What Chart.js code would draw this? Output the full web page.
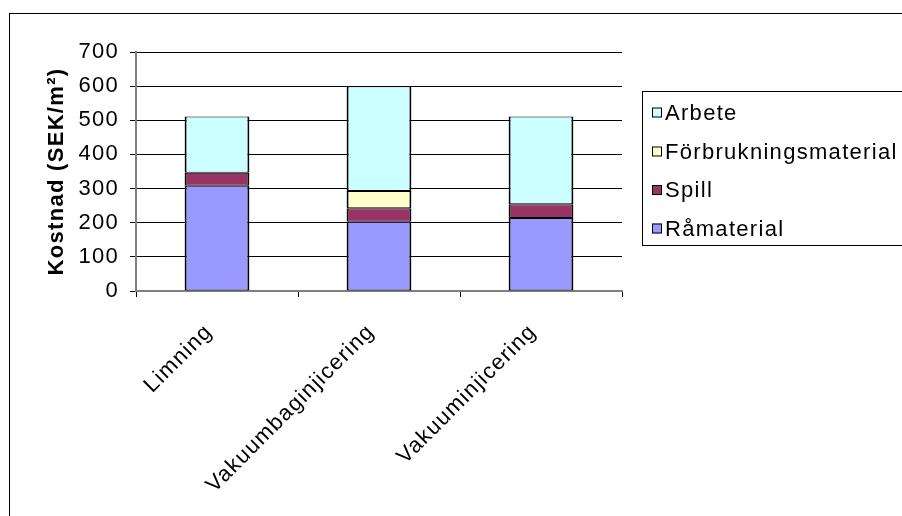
<!DOCTYPE html>
<html>
<head>
<meta charset="utf-8">
<script src="https://cdn.jsdelivr.net/npm/chart.js@4"></script>
<style>
  html, body { margin: 0; padding: 0; background: #fff; }
  #c { display: block; }
</style>
</head>
<body>
<canvas id="c" width="902" height="516"></canvas>
<script>
// Cost per square metre for each manufacturing method (SEK/m²)
const categories = ['Limning', 'Vakuumbaginjicering', 'Vakuuminjicering'];
const ramaterial = [308, 203, 214];
const spill = [38, 39, 40];
const forbrukning = [0, 51, 0];
const arbete = [165, 307, 257];
const yTicks = [0, 100, 200, 300, 400, 500, 600, 700];
const seriesNames = ['Råmaterial', 'Spill', 'Förbrukningsmaterial', 'Arbete'];
const seriesColors = ['#9999FF', '#993366', '#FFFFCC', '#CCFFFF'];

const FONT = '"Liberation Sans", Arial, sans-serif';
const SPACING = '1.3px';

// Slightly wider text tracking for every label on the canvas
const trackingPlugin = {
  id: 'tracking',
  beforeUpdate(chart) { chart.ctx.letterSpacing = SPACING; },
  beforeLayout(chart) { chart.ctx.letterSpacing = SPACING; },
  beforeDraw(chart) { chart.ctx.letterSpacing = SPACING; }
};

// Frame around the whole chart plus a boxed legend on the right
const framePlugin = {
  id: 'frame',
  afterDraw(chart) {
    const ctx = chart.ctx;
    ctx.save();
    ctx.strokeStyle = '#000';
    ctx.lineWidth = 1;
    ctx.strokeRect(9.5, 13.5, 1000, 1000);

    // legend box
    ctx.strokeRect(642.5, 91.5, 300, 154);
    ctx.font = '22px ' + FONT;
    ctx.textBaseline = 'middle';
    ctx.textAlign = 'left';
    const ds = chart.data.datasets;
    const rowY = [112.5, 151.5, 190, 228.5];
    for (let i = 0; i < ds.length; i++) {
      const d = ds[ds.length - 1 - i];
      const y = rowY[i];
      ctx.fillStyle = d.backgroundColor;
      ctx.fillRect(652, y - 5, 10, 10);
      ctx.strokeStyle = '#000';
      ctx.lineWidth = 1;
      ctx.strokeRect(652.5, y - 4.5, 9, 9);
      ctx.fillStyle = '#000';
      ctx.fillText(d.label, 665, y + 1);
    }
    ctx.restore();
  }
};

const values = [ramaterial, spill, forbrukning, arbete];

new Chart(document.getElementById('c'), {
  type: 'bar',
  data: {
    labels: categories,
    datasets: values.map((v, i) => ({
      label: seriesNames[i],
      data: v,
      backgroundColor: seriesColors[i],
      borderColor: '#000',
      borderWidth: { top: 1, bottom: 1, left: 2, right: 2 },
      borderSkipped: false,
      barPercentage: 0.4,
      categoryPercentage: 1
    }))
  },
  options: {
    responsive: false,
    animation: false,
    devicePixelRatio: 1,
    layout: { padding: { left: 0, top: 52, right: 280, bottom: 0 } },
    plugins: {
      legend: { display: false },
      tooltip: { enabled: false }
    },
    scales: {
      x: {
        stacked: true,
        afterFit(scale) { scale.height = 516 - 291; },
        grid: {
          offset: true,
          drawOnChartArea: false,
          drawTicks: true,
          tickLength: 6,
          color: '#000'
        },
        border: { color: '#808080', width: 2 },
        ticks: {
          color: '#000',
          font: { family: FONT, size: 22 },
          minRotation: 45,
          maxRotation: 45,
          padding: 22,
          labelOffset: -8
        }
      },
      y: {
        stacked: true,
        min: 0,
        max: 700,
        afterFit(scale) { scale.width = 136; },
        afterBuildTicks(scale) { scale.ticks = yTicks.map(v => ({ value: v })); },
        grid: { color: '#000', tickLength: 6 },
        border: { color: '#808080', width: 2 },
        ticks: {
          color: '#000',
          font: { family: FONT, size: 22 },
          padding: 11
        },
        title: {
          display: true,
          text: 'Kostnad (SEK/m²)',
          color: '#000',
          font: { family: FONT, size: 22, weight: 'bold' },
          padding: { top: 44, bottom: 0 }
        }
      }
    }
  },
  plugins: [trackingPlugin, framePlugin]
});
</script>
</body>
</html>
